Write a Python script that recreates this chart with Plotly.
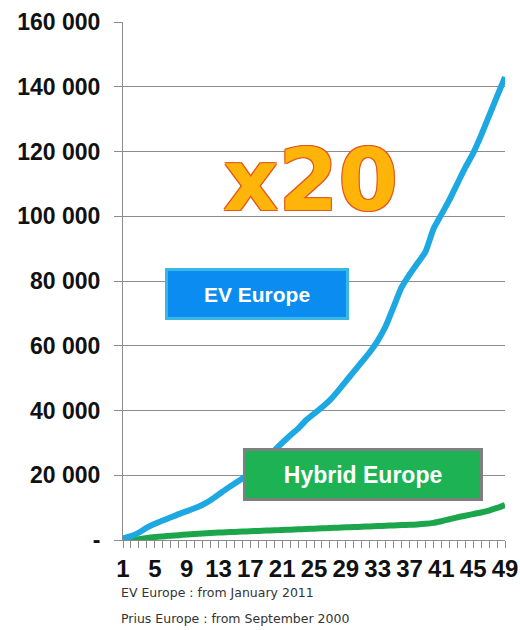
import plotly.graph_objects as go

fnt = "Liberation Sans"
(ev_color, hybrid_color, grid_color) = ("#1ea8e2", "#1ba64b", "#8c8c8c")

months = list(range(1, 50))
ev_europe = [500, 1200, 2300, 3800, 5000, 6000, 7000, 8000, 8900, 9800,
             10900, 12300, 14000, 15800, 17400, 19000, 20700, 23000, 25300, 27600,
             30000, 32300, 34400, 37000, 39000, 41000, 43200, 46000, 49000, 52000,
             55000, 58000, 61500, 66000, 72000, 78000, 82000, 85500, 89000, 96000,
             100500, 105000, 110000, 115000, 119500, 125000, 131000, 137000, 143000]
hybrid_europe = [0, 0, 200, 600, 900, 1100, 1300, 1500, 1700, 1850,
                 2000, 2150, 2300, 2400, 2500, 2600, 2700, 2800, 2900, 3000,
                 3100, 3200, 3300, 3400, 3500, 3600, 3700, 3800, 3900, 4000,
                 4100, 4200, 4300, 4400, 4500, 4600, 4700, 4800, 5000, 5300,
                 5800, 6400, 7000, 7500, 8000, 8500, 9100, 9900, 10800]

x_tickvals = months
x_ticktext = [str(m) if (m - 1) % 4 == 0 else "" for m in months]
y_tickvals = [0, 20000, 40000, 60000, 80000, 100000, 120000, 140000, 160000]
y_ticktext = ["-", "20 000", "40 000", "60 000", "80 000", "100 000", "120 000", "140 000", "160 000"]

fig = go.Figure()
fig.add_trace(go.Scatter(x=months, y=hybrid_europe, mode="lines",
                         line=dict(color=hybrid_color, width=6, shape="spline", smoothing=0.6),
                         hoverinfo="skip"))
fig.add_trace(go.Scatter(x=months, y=ev_europe, mode="lines",
                         line=dict(color=ev_color, width=6, shape="spline", smoothing=0.6),
                         hoverinfo="skip"))

outline = "#e2581b"
fig.add_annotation(
    text="x20", xref="paper", yref="paper", x=0.492, y=0.695,
    xanchor="center", yanchor="middle", showarrow=False,
    font=dict(family="DejaVu Sans", size=86, color="#ffb40a", weight="bold",
              shadow=f"1px 1px 0 {outline}, -1px -1px 0 {outline}, 1px -1px 0 {outline}, -1px 1px 0 {outline}"),
)
fig.add_annotation(
    text="EV Europe", xref="paper", yref="paper", x=0.35, y=0.475,
    xanchor="center", yanchor="middle", showarrow=False, width=178, height=46,
    bgcolor="#0b8cf0", bordercolor="#3ab8e4", borderwidth=3, borderpad=0,
    font=dict(family=fnt, size=21, color="white", weight="bold"),
)
fig.add_annotation(
    text="Hybrid Europe", xref="paper", yref="paper", x=0.628, y=0.126,
    xanchor="center", yanchor="middle", showarrow=False, width=234, height=47,
    bgcolor="#1db254", bordercolor="#7f7f7f", borderwidth=3, borderpad=0,
    font=dict(family=fnt, size=23, color="white", weight="bold"),
)
fig.add_annotation(
    text="EV Europe : from January 2011", xref="paper", yref="paper",
    x=-0.01, y=-0.102, xanchor="left", yanchor="middle", showarrow=False,
    font=dict(family="DejaVu Sans", size=12.5, color="#333333"),
)
fig.add_annotation(
    text="Prius Europe : from September 2000", xref="paper", yref="paper",
    x=-0.01, y=-0.152, xanchor="left", yanchor="middle", showarrow=False,
    font=dict(family="DejaVu Sans", size=12.5, color="#333333"),
)

fig.update_layout(
    width=520, height=630,
    margin=dict(l=123, r=15, t=22, b=90),
    paper_bgcolor="white", plot_bgcolor="white",
    showlegend=False,
    xaxis=dict(
        range=[1, 49], tickmode="array", tickvals=x_tickvals, ticktext=x_ticktext,
        ticks="outside", ticklen=7, tickcolor=grid_color, tickwidth=1,
        showline=True, linecolor=grid_color, linewidth=1,
        showgrid=False, zeroline=False, ticklabelstandoff=0, automargin=False,
        tickfont=dict(family=fnt, size=24, color="#111111", weight="bold"),
    ),
    yaxis=dict(
        range=[0, 160000], tickmode="array", tickvals=y_tickvals, ticktext=y_ticktext,
        ticks="outside", ticklen=8, tickcolor=grid_color,
        showline=True, linecolor=grid_color, linewidth=1,
        showgrid=True, gridcolor=grid_color, gridwidth=1, zeroline=False,
        ticklabelstandoff=9, automargin=False,
        tickfont=dict(family=fnt, size=23, color="#111111", weight="bold"),
    ),
)

# drop the default page margin so the 520x630 figure fills the window exactly
fig.write_html("out.html", config={"displayModeBar": False},
               post_script="document.body.style.margin='0';document.body.style.overflow='hidden';")
